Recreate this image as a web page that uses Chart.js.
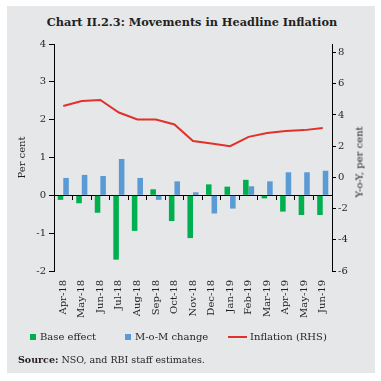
<!DOCTYPE html>
<html>
<head>
<meta charset="utf-8">
<script src="https://cdn.jsdelivr.net/npm/chart.js@4.4.1/dist/chart.umd.min.js"></script>
<style>
  html, body { margin: 0; padding: 0; background: #fff; }
  #wrap { position: relative; width: 381px; height: 381px; overflow: hidden; font-family: "DejaVu Serif", serif; color: #231f20; }
  #panel { position: absolute; left: 7px; top: 6px; width: 368px; height: 367px; background: #e6e7e8; }
  #myChart { position: absolute; left: 0; top: 0; }
  .txt { position: absolute; white-space: nowrap; }
  #title { left: 0; width: 384px; top: 15px; text-align: center; font-weight: bold; font-size: 11.3px; }
  #rhsTitle { font-size: 10px; left: 359px; top: 162px; transform: translate(-50%, -50%) rotate(-90deg); }
  .lg { top: 331px; font-size: 10px; line-height: 12px; }
  .sw { position: absolute; }
  #source { left: 18px; top: 354px; font-size: 9.5px; }
</style>
</head>
<body>
<div id="wrap">
  <div id="panel"></div>
  <div class="txt" id="title">Chart II.2.3: Movements in Headline Inflation</div>
  <canvas id="myChart" width="381" height="381"></canvas>
  <div class="txt" id="rhsTitle">Y-o-Y, per cent</div>
  <div class="sw" style="left:30px;top:334px;width:6px;height:6px;background:#00b050"></div>
  <div class="txt lg" style="left:40px">Base effect</div>
  <div class="sw" style="left:125px;top:334px;width:6px;height:6px;background:#5b9bd5"></div>
  <div class="txt lg" style="left:135px">M-o-M change</div>
  <div class="sw" style="left:228px;top:336px;width:19px;height:2px;background:#e0312b"></div>
  <div class="txt lg" style="left:250px">Inflation (RHS)</div>
  <div class="txt" id="source"><b>Source:</b> NSO, and RBI staff estimates.</div>
</div>
<script>
const months = ["Apr-18", "May-18", "Jun-18", "Jul-18", "Aug-18", "Sep-18", "Oct-18", "Nov-18",
  "Dec-18", "Jan-19", "Feb-19", "Mar-19", "Apr-19", "May-19", "Jun-19"];
const baseEffect = [-0.12, -0.21, -0.46, -1.70, -0.94, 0.16, -0.68, -1.13, 0.29, 0.23, 0.41, -0.08, -0.43, -0.52, -0.52];
const momChange = [0.46, 0.54, 0.51, 0.96, 0.46, -0.12, 0.37, 0.08, -0.48, -0.35, 0.24, 0.37, 0.61, 0.61, 0.65];
const inflation = [4.58, 4.90, 4.96, 4.16, 3.71, 3.71, 3.39, 2.33, 2.17, 2.00, 2.60, 2.85, 2.98, 3.03, 3.17];
const rhsTicks = [-6, -4, -2, 0, 2, 4, 6, 8];

const ink = "#231f20";
const tickFont = { family: "DejaVu Serif", size: 10 };

new Chart(document.getElementById("myChart").getContext("2d"), {
  data: {
    labels: months,
    datasets: [
      {
        type: "line",
        label: "Inflation (RHS)",
        data: inflation,
        yAxisID: "y1",
        xAxisID: "x",
        borderColor: "#e0312b",
        borderWidth: 2,
        pointRadius: 0,
        tension: 0,
        order: 0,
      },
      {
        type: "bar",
        label: "Base effect",
        data: baseEffect,
        yAxisID: "y",
        xAxisID: "x",
        backgroundColor: "#00b050",
        categoryPercentage: 0.6,
        barPercentage: 1,
        order: 1,
      },
      {
        type: "bar",
        label: "M-o-M change",
        data: momChange,
        yAxisID: "y",
        xAxisID: "x",
        backgroundColor: "#5b9bd5",
        categoryPercentage: 0.6,
        barPercentage: 1,
        order: 1,
      },
    ],
  },
  options: {
    responsive: false,
    animation: false,
    layout: { padding: { top: 44, left: 0, right: 0, bottom: 0 } },
    plugins: { legend: { display: false }, tooltip: { enabled: false } },
    scales: {
      x: {
        type: "category",
        position: { y: 0 },
        offset: true,
        border: { display: true, color: "#000", width: 1 },
        grid: { drawOnChartArea: false, drawTicks: true, tickLength: 4, color: "#000", offset: true },
        ticks: { display: false },
        afterFit(scale) { scale.height = 0; },
      },
      x2: {
        type: "category",
        position: "bottom",
        labels: months,
        offset: true,
        border: { display: false },
        grid: { display: false, drawTicks: false },
        ticks: { autoSkip: false, maxRotation: 90, minRotation: 90, padding: 9, color: ink, font: tickFont },
        afterFit(scale) { scale.height = 110; },
      },
      y: {
        position: "left",
        min: -2,
        max: 4,
        border: { display: true, color: "#000", width: 1 },
        grid: { drawOnChartArea: false, drawTicks: true, tickLength: 5, color: "#000" },
        ticks: { stepSize: 1, padding: 3, color: ink, font: tickFont },
        title: { display: true, text: "Per cent", color: ink, font: tickFont, padding: { top: 16, bottom: 0 } },
        afterFit(scale) { scale.width = 54; },
      },
      y1: {
        position: "right",
        min: -6,
        max: 8.55,
        border: { display: true, color: "#000", width: 1 },
        grid: { drawOnChartArea: false, drawTicks: true, tickLength: 4, color: "#000" },
        ticks: { padding: 2, color: ink, font: tickFont },
        afterBuildTicks(scale) { scale.ticks = rhsTicks.map((v) => ({ value: v })); },
        afterFit(scale) { scale.width = 49; },
      },
    },
  },
});
</script>
</body>
</html>
